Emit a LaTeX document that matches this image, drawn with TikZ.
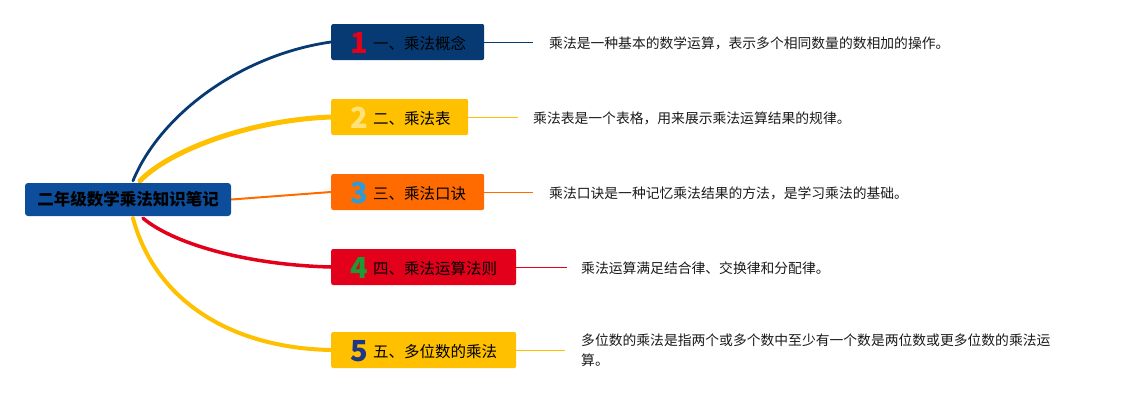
\documentclass[tikz,border=0pt]{standalone}
\usepackage{fontspec}
\setmainfont{Noto Sans CJK SC}
\usetikzlibrary{backgrounds}
\definecolor{rootblue}{HTML}{0D4E9C}
\definecolor{navy}{HTML}{073A72}
\definecolor{gold}{HTML}{FFC000}
\definecolor{orng}{HTML}{FF6B00}
\definecolor{rred}{HTML}{E3001B}
\definecolor{lightyel}{HTML}{FFE37A}
\definecolor{skyblue}{HTML}{2F9BD6}
\definecolor{grn}{HTML}{1E9A34}
\definecolor{darknum}{HTML}{1F3585}
\definecolor{txt}{HTML}{1A1A1A}
\tikzset{
  rootbox/.style={draw=none, rounded corners=3pt, minimum width=206pt, minimum height=33pt, inner sep=0pt,
    font=\fontsize{16.5}{20}\selectfont\bfseries, text=black},
  branchbox/.style={draw=none, rounded corners=2pt, minimum height=36pt, inner sep=0pt, anchor=west},
  numtxt/.style={anchor=base west, inner sep=0pt, font=\fontsize{29}{30}\selectfont\bfseries},
  labtxt/.style={anchor=base west, inner sep=0pt, font=\fontsize{15.5}{18}\selectfont, text=black},
  desctxt/.style={anchor=west, inner sep=0pt, font=\fontsize{13.8}{20}\selectfont, text=txt, align=left},
  trunk/.style={line cap=round},
  leader/.style={line width=0.8pt}
}
\begin{document}
\begin{tikzpicture}[x=1pt,y=-1pt]
\useasboundingbox (0,0) rectangle (1141,400);
% root
\node[rootbox, fill=rootblue] (root) at (128,199.5) {二年级数学乘法知识笔记};
% branch boxes
\node[branchbox, fill=navy, minimum width=153pt] (b1) at (331,42) {};
\node[branchbox, fill=gold, minimum width=137pt] (b2) at (331,117) {};
\node[branchbox, fill=orng, minimum width=153pt] (b3) at (331,192) {};
\node[branchbox, fill=rred, minimum width=185pt] (b4) at (331,267) {};
\node[branchbox, fill=gold, minimum width=185pt] (b5) at (331,350) {};
% numbers and labels
\node[numtxt, text=rred] (n1) at (350,53) {1};
\node[labtxt] (l1) at (373,49) {一、乘法概念};
\node[numtxt, text=lightyel] (n2) at (350,128) {2};
\node[labtxt] (l2) at (373,124) {二、乘法表};
\node[numtxt, text=skyblue] (n3) at (350,203) {3};
\node[labtxt] (l3) at (373,199) {三、乘法口诀};
\node[numtxt, text=grn] (n4) at (350,278) {4};
\node[labtxt] (l4) at (373,274) {四、乘法运算法则};
\node[numtxt, text=darknum] (n5) at (350,361) {5};
\node[labtxt] (l5) at (373,357) {五、多位数的乘法};
% descriptions
\node[desctxt] (d1) at (549,43) {乘法是一种基本的数学运算，表示多个相同数量的数相加的操作。};
\node[desctxt] (d2) at (533,118) {乘法表是一个表格，用来展示乘法运算结果的规律。};
\node[desctxt] (d3) at (549,193) {乘法口诀是一种记忆乘法结果的方法，是学习乘法的基础。};
\node[desctxt] (d4) at (581,268) {乘法运算满足结合律、交换律和分配律。};
\node[desctxt] (d5) at (581,350) {多位数的乘法是指两个或多个数中至少有一个数是两位数或更多位数的乘法运\\算。};
% trunk curves
\begin{scope}[on background layer]
\draw[trunk, navy, line width=2.8pt] ([xshift=5pt,yshift=2pt]root.north) .. controls (160,115) and (240,55) .. (b1.west);
\draw[trunk, gold, line width=5pt] ([xshift=12pt,yshift=2pt]root.north) .. controls (170,150) and (250,120) .. (b2.west);
\draw[orng, line width=2pt] (root.east) -- (b3.west);
\draw[trunk, rred, line width=3.5pt] ([xshift=15pt,yshift=-2pt]root.south) .. controls (175,245) and (250,265) .. (b4.west);
\draw[trunk, gold, line width=4pt] ([xshift=5pt,yshift=-2pt]root.south) .. controls (155,300) and (230,348) .. (b5.west);
\end{scope}
% leaders
\draw[leader, navy] (b1.east) -- ([xshift=-16pt]d1.west |- b1.east);
\draw[leader, gold] (b2.east) -- ([xshift=-15pt]d2.west |- b2.east);
\draw[leader, orng] (b3.east) -- ([xshift=-16pt]d3.west |- b3.east);
\draw[leader, rred] (b4.east) -- ([xshift=-14pt]d4.west |- b4.east);
\draw[leader, gold] (b5.east) -- ([xshift=-16pt]d5.west |- b5.east);
\end{tikzpicture}
\end{document}
